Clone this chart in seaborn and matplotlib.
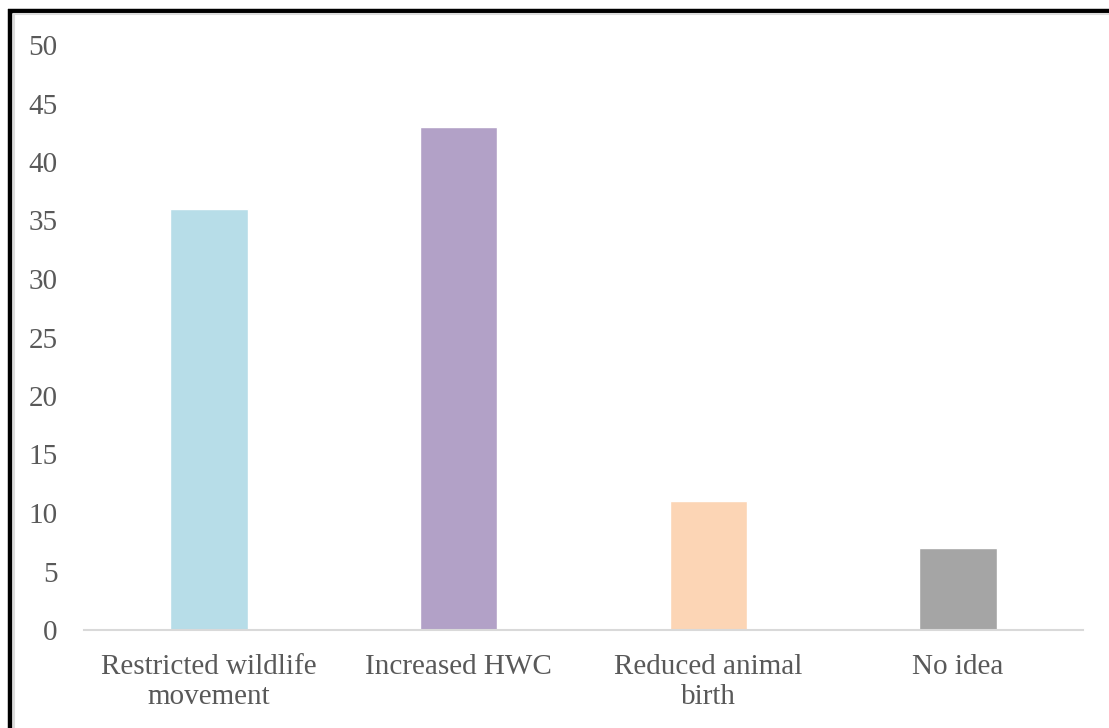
import matplotlib
matplotlib.use("Agg")
import matplotlib.pyplot as plt
from matplotlib.lines import Line2D
import seaborn as sns
import pandas as pd

categories = ["Restricted wildlife\nmovement", "Increased HWC", "Reduced animal\nbirth", "No idea"]
values = [36, 43, 11, 7]
colors = ["#b7dde8", "#b2a1c7", "#fcd5b5", "#a5a5a5"]
yticks = [0, 5, 10, 15, 20, 25, 30, 35, 40, 45, 50]

sns.set_theme(style="white")
plt.rcParams["font.family"] = ["Liberation Serif", "DejaVu Serif"]

W, H = 1109, 728
fig = plt.figure(figsize=(W / 100, H / 100), dpi=100)
ax = fig.add_axes([84 / W, (H - 630) / H, (1083 - 84) / W, (630 - 45) / H])

df = pd.DataFrame({"cat": categories, "val": values})
sns.barplot(data=df, x="cat", y="val", hue="cat", palette=colors, width=0.31,
            legend=False, ax=ax, saturation=1)

ax.set_xlim(-0.5, 3.5)
ax.set_ylim(0, 50)
ax.set_yticks(yticks)
ax.set_yticklabels([str(t) for t in yticks])
ax.set_xlabel("")
ax.set_ylabel("")
for s in ["top", "right", "left"]:
    ax.spines[s].set_visible(False)
ax.spines["bottom"].set_color("#d9d9d9")
ax.spines["bottom"].set_linewidth(1.5)
ax.tick_params(axis="y", length=0, pad=19, labelsize=21, labelcolor="#595959")
ax.tick_params(axis="x", length=0, pad=17, labelsize=21, labelcolor="#595959")
for lbl in ax.get_xticklabels():
    lbl.set_linespacing(1.22)

# figure border (top and left only, as in the reference)
kw = dict(transform=fig.transFigure, solid_capstyle="butt")
fig.add_artist(Line2D([8 / W, 1.0], [1 - 11 / H, 1 - 11 / H], color="black", lw=3.2, **kw))
fig.add_artist(Line2D([10 / W, 10 / W], [0, 1 - 9 / H], color="black", lw=3.2, **kw))
fig.add_artist(Line2D([13 / W, 1.0], [1 - 14 / H, 1 - 14 / H], color="#dcdcdc", lw=1.5, **kw))
fig.add_artist(Line2D([13.5 / W, 13.5 / W], [0, 1 - 14 / H], color="#dcdcdc", lw=1.5, **kw))

fig.savefig("out.png", dpi=100)
